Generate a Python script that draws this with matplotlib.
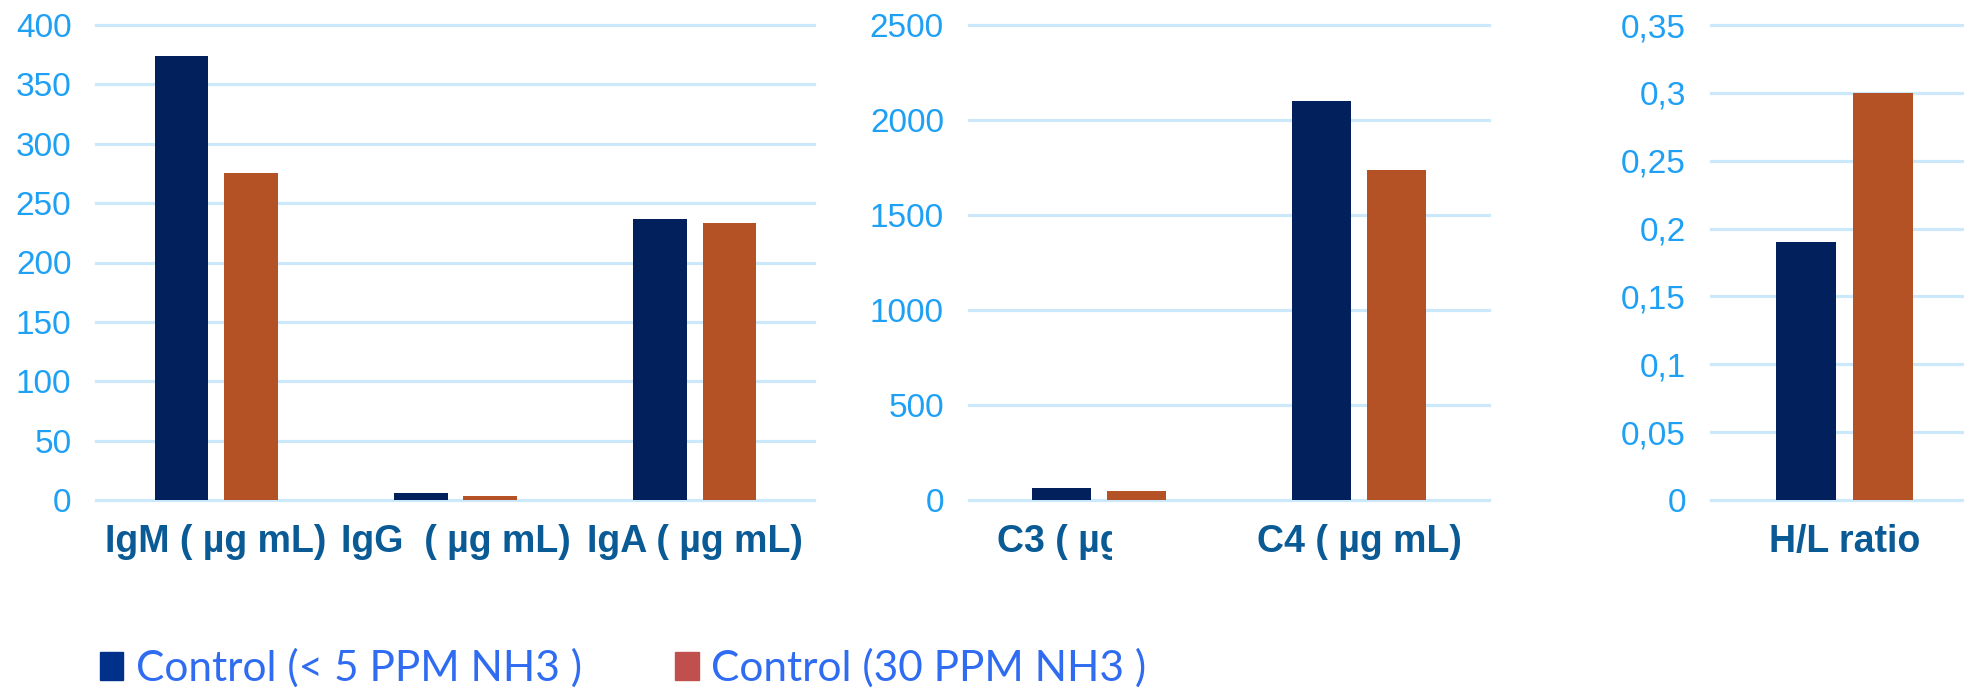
import matplotlib
matplotlib.use("Agg")
import matplotlib.pyplot as plt
import numpy as np
from matplotlib.patches import Patch
from matplotlib.transforms import Bbox

series_names = ["Control (< 5 PPM NH3 )", "Control (30 PPM NH3 )"]

ig_labels = ["IgM ( µg mL)", "IgG  ( µg mL)", "IgA ( µg mL)"]
ig_low = [374, 6, 237]
ig_high = [275, 3.5, 233]
ig_ticks = [0, 50, 100, 150, 200, 250, 300, 350, 400]

comp_labels = ["C3 ( µg mL)", "C4 ( µg mL)"]
comp_low = [65, 2100]
comp_high = [50, 1738]
comp_ticks = [0, 500, 1000, 1500, 2000, 2500]

hl_labels = ["H/L ratio"]
hl_low = [0.19]
hl_high = [0.30]
hl_ticks = [0, 0.05, 0.1, 0.15, 0.2, 0.25, 0.3, 0.35]
hl_tick_labels = ["0", "0,05", "0,1", "0,15", "0,2", "0,25", "0,3", "0,35"]

NAVY = "#02205c"
ORANGE = "#b55225"
LEG_NAVY = "#00318a"
LEG_RED = "#c0504d"
GRID = "#cce8fb"
TICK_COLOR = "#1ea0f4"
CAT_COLOR = "#0a5a96"
LEG_TEXT = "#2f6cf2"

WIDTH = 0.225
OFFSET = 0.145

plt.rcParams["font.family"] = ["Liberation Sans", "DejaVu Sans"]


def draw_panel(ax, labels, low, high, ticks, tick_labels=None):
    x = np.arange(len(labels))
    ax.bar(x - OFFSET, low, WIDTH, color=NAVY, zorder=3)
    ax.bar(x + OFFSET, high, WIDTH, color=ORANGE, zorder=3)
    ax.set_xlim(-0.5, len(labels) - 0.5)
    ax.set_ylim(ticks[0], ticks[-1])
    ax.set_yticks(ticks)
    if tick_labels is not None:
        ax.set_yticklabels(tick_labels)
    ax.set_xticks(x)
    ax.set_xticklabels(labels, fontsize=27, fontweight="bold", color=CAT_COLOR)
    ax.tick_params(axis="y", length=0, pad=18, labelsize=24, labelcolor=TICK_COLOR)
    ax.tick_params(axis="x", length=0, pad=17)
    ax.grid(axis="y", color=GRID, linewidth=2.3)
    ax.grid(axis="x", visible=False)
    ax.set_axisbelow(True)
    for s in ax.spines.values():
        s.set_visible(False)
    for gl in ax.get_ygridlines():
        gl.set_clip_on(False)


fig = plt.figure(figsize=(19.65, 6.92), dpi=100)
bottom = 1 - 500 / 692
height = 475 / 692

ax1 = fig.add_axes([96.5 / 1965, bottom, 718 / 1965, height])
draw_panel(ax1, ig_labels, ig_low, ig_high, ig_ticks)

ax2 = fig.add_axes([969 / 1965, bottom, 520 / 1965, height])
draw_panel(ax2, comp_labels, comp_low, comp_high, comp_ticks)

ax3 = fig.add_axes([1711 / 1965, bottom, 267 / 1965, height])
draw_panel(ax3, hl_labels, hl_low, hl_high, hl_ticks, hl_tick_labels)

# the C3 label is cut off in the original
c3 = ax2.get_xticklabels()[0]
c3.set_clip_box(Bbox.from_extents(0, 0, 1112, 692))
c3.set_clip_on(True)

handles = [Patch(color=LEG_NAVY), Patch(color=LEG_RED)]
fig.legend(handles, series_names, loc="center left",
           bbox_to_anchor=(100 / 1965, 24 / 692), ncol=2, frameon=False,
           prop={"family": "Lato", "size": 30.5}, labelcolor=LEG_TEXT,
           handlelength=0.55, handleheight=0.65, handletextpad=0.3,
           columnspacing=2.2, borderpad=0, borderaxespad=0)

fig.savefig("out.png", dpi=100)
